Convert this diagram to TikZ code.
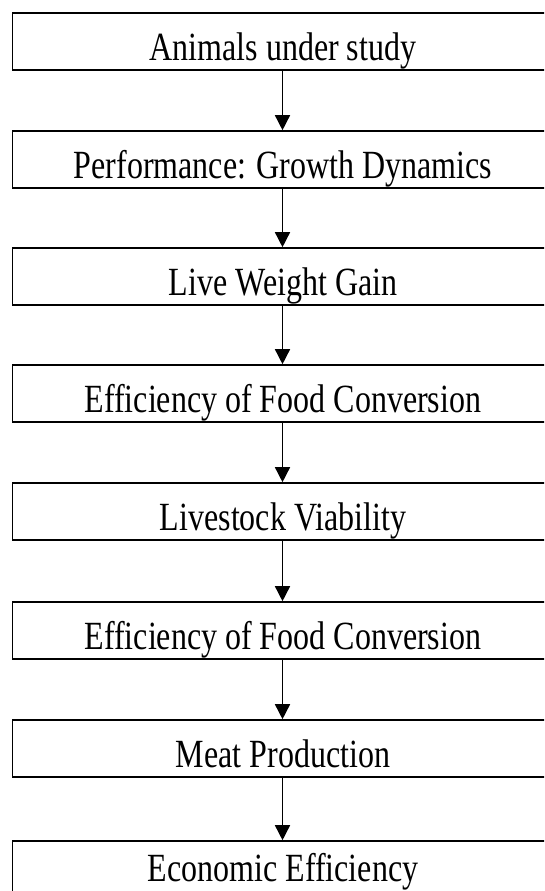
\documentclass[tikz,border=0pt]{standalone}
\usepackage{fontspec}
\setmainfont{Liberation Serif}[FakeStretch=0.8]
\usetikzlibrary{arrows.meta}
\begin{document}
\begin{tikzpicture}[x=1pt,y=-1pt,
  box/.style={draw=black,line width=1.6pt,rectangle,minimum width=540pt,minimum height=57pt,inner sep=0pt,fill=white},
  lbl/.style={anchor=base,inner sep=0pt,font=\fontsize{40}{48}\selectfont},
  arr/.style={line width=1.5pt,-{Triangle[width=15pt,length=15pt]}}]
\useasboundingbox (0,0) rectangle (544,891);
\clip (0,0) rectangle (544,891);
\fill[white] (0,0) rectangle (544,891);
\foreach \n/\t in {1/13,2/131,3/248,4/365,5/483,6/602,7/720,8/841}{
  \node[box] (b\n) at (282.5,\t+28.5) {};
}
\node[lbl] (t1) at (283,13+47) {Animals under study};
\node[lbl] (t2) at (283,131+47) {Performance: Growth Dynamics};
\node[lbl] (t3) at (283,248+47) {Live Weight Gain};
\node[lbl] (t4) at (283,365+47) {Efficiency of Food Conversion};
\node[lbl] (t5) at (283,483+47) {Livestock Viability};
\node[lbl] (t6) at (283,602+47) {Efficiency of Food Conversion};
\node[lbl] (t7) at (283,720+47) {Meat Production};
\node[lbl] (t8) at (283,841+40) {Economic Efficiency};
\foreach \a/\b in {1/2,2/3,3/4,4/5,5/6,6/7,7/8}{
  \draw[arr] (b\a.south) -- (b\b.north);
}
\end{tikzpicture}
\end{document}
